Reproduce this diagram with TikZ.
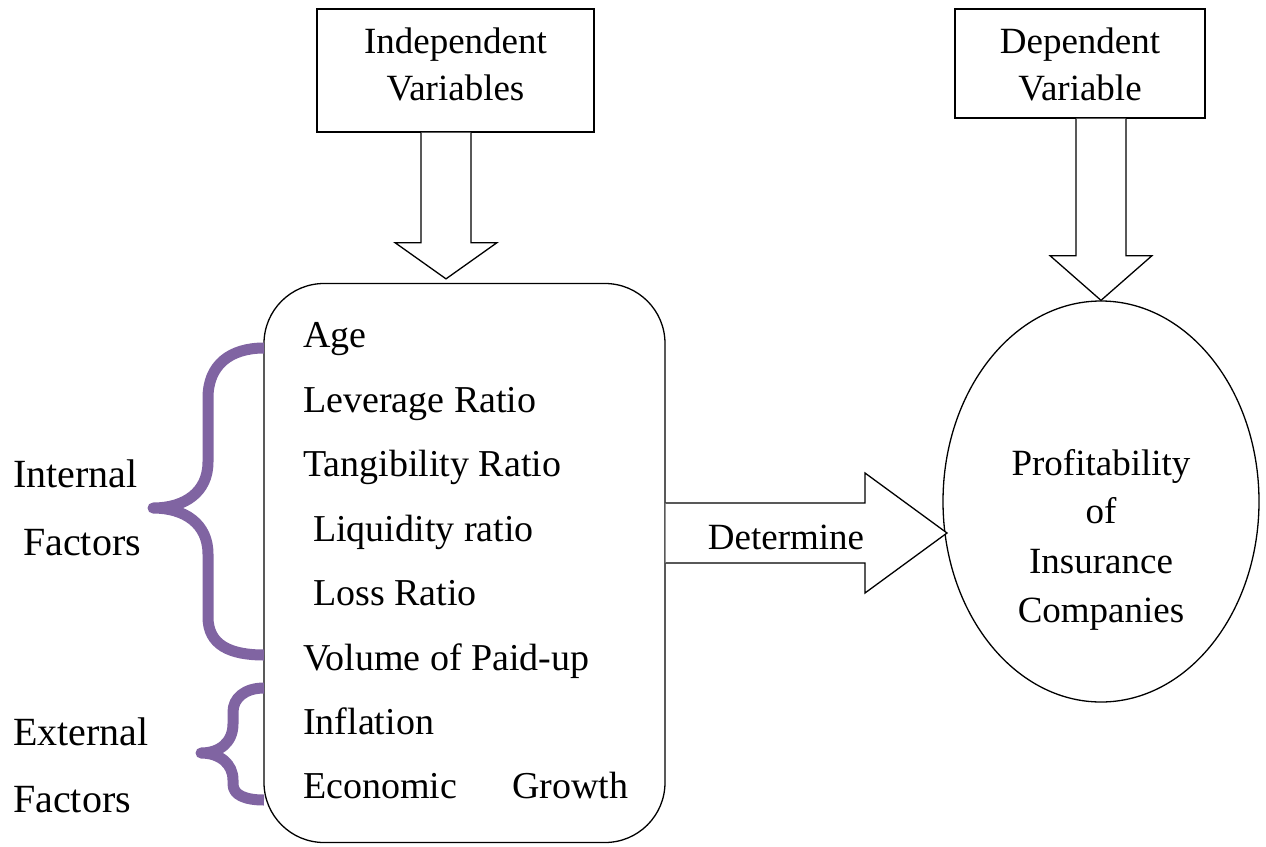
\documentclass[tikz,border=0pt]{standalone}
\usepackage{fontspec}
\setmainfont{Liberation Serif}
\usetikzlibrary{calc,shapes.geometric}
\definecolor{bracepurple}{RGB}{128,100,162}
\begin{document}
\begin{tikzpicture}[x=1pt,y=-1pt,
  every node/.style={font=\fontsize{37}{47}\selectfont},
  txt/.style={anchor=base west,inner sep=0pt,font=\fontsize{38}{47}\selectfont},
  side/.style={anchor=base west,inner sep=0pt,font=\fontsize{40}{47}\selectfont},
  ctxt/.style={anchor=base,inner sep=0pt},
  varbox/.style={draw,line width=1.3pt,align=center,inner sep=0pt},
  blockarrow/.style={draw,line width=1.3pt,fill=white,line join=miter},
  bracestyle/.style={draw=bracepurple,line width=11pt,line join=round,line cap=butt}]
\useasboundingbox (0,0) rectangle (1266,846);
% boxes
\node[varbox,minimum width=277pt,minimum height=123pt] (ind) at (455.5,70.5) {};
\node[ctxt] (ind1) at (455.5,53) {Independent};
\node[ctxt] (ind2) at (455.5,100) {Variables};
\node[varbox,minimum width=250pt,minimum height=109pt] (dep) at (1080,63.5) {};
\node[ctxt] (dep1) at (1080,53) {Dependent};
\node[ctxt] (dep2) at (1080,100) {Variable};
\node[draw,line width=1.3pt,rounded corners=60pt,minimum width=401pt,minimum height=559pt,inner sep=0pt] (main) at (464.5,563) {};
\node[draw,ellipse,line width=1.3pt,minimum width=316pt,minimum height=401pt,inner sep=0pt] (prof) at (1101,501.5) {};
\node[ctxt] (p1) at (1101,475) {Profitability};
\node[ctxt] (p2) at (1101,523.5) {of};
\node[ctxt] (p3) at (1101,573) {Insurance};
\node[ctxt] (p4) at (1101,622) {Companies};
% braces
\draw[bracestyle] (264,348) .. controls (230,348) and (208,365) .. (208,398) -- (208,462) .. controls (208,492) and (185,508) .. (153,508) .. controls (185,508) and (208,524) .. (208,554) -- (208,617) .. controls (208,645) and (230,655) .. (264,655);
\draw[bracestyle] (264,688) .. controls (245,688) and (233,698) .. (233,712) -- (233,724) .. controls (233,742) and (220,753) .. (201,753) .. controls (220,753) and (233,764) .. (233,780) -- (233,784) .. controls (233,795) and (245,800) .. (264,800);
% down arrows
\coordinate (tipA) at ($(main.north)+(-18.5,-4)$);
\draw[blockarrow] ($(tipA |- ind.south)+(-25,0)$) -- ($(tipA |- ind.south)+(-25,110)$) -- ($(tipA |- ind.south)+(-51,110)$) -- (tipA) -- ($(tipA |- ind.south)+(51,110)$) -- ($(tipA |- ind.south)+(25,110)$) -- ($(tipA |- ind.south)+(25,0)$);
\draw[blockarrow] ($(prof.north |- dep.south)+(-25,0)$) -- ($(prof.north |- dep.south)+(-25,137)$) -- ($(prof.north |- dep.south)+(-51,137)$) -- (prof.north) -- ($(prof.north |- dep.south)+(51,137)$) -- ($(prof.north |- dep.south)+(25,137)$) -- ($(prof.north |- dep.south)+(25,0)$);
% determine arrow
\coordinate (tip) at (947,533);
\draw[blockarrow] (main.east |- 0,503) -- (865,503) -- (865,473) -- (tip) -- (865,593) -- (865,563) -- (main.east |- 0,563);
\node (det) at (786,537) {Determine};
% list
\node[txt] (age) at (303,347) {Age};
\node[txt] (lev) at (303,412) {Leverage Ratio};
\node[txt] (tan) at (303,476) {Tangibility Ratio};
\node[txt] (liq) at (313,541) {Liquidity ratio};
\node[txt] (loss) at (313,605) {Loss Ratio};
\node[txt] (vol) at (303,670) {Volume of Paid-up};
\node[txt] (inf) at (303,734) {Inflation};
\node[txt] (eco) at (303,798) {Economic};
\node[txt] (gro) at (512,798) {Growth};
% side labels
\node[side] (int1) at (13,487) {Internal};
\node[side] (int2) at (23,555) {Factors};
\node[side] (ext1) at (13,745) {External};
\node[side] (ext2) at (13,812) {Factors};
\end{tikzpicture}
\end{document}
